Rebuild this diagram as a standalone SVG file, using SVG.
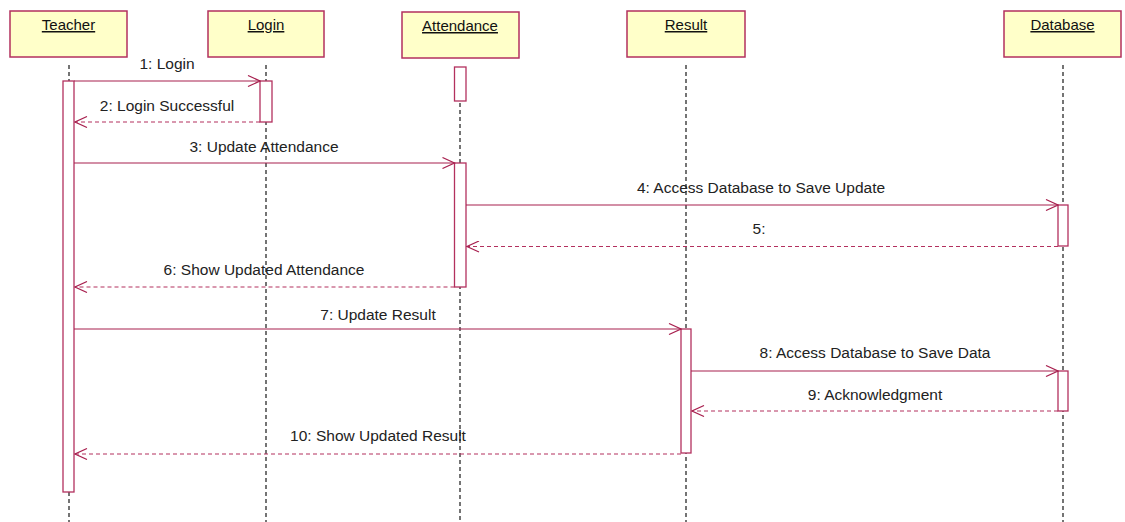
<svg xmlns="http://www.w3.org/2000/svg" width="1125" height="522" viewBox="0 0 1125 522">
  <style>
    .obj { fill: #FFFFC9; stroke: #B3305E; stroke-width: 1.5; }
    .act { fill: #FFFFFF; stroke: #B3305E; stroke-width: 1.3; }
    .life { stroke: #3A3A3A; stroke-width: 1.4; stroke-dasharray: 4 3; fill: none; }
    .msg { stroke: #A8204F; stroke-width: 1.2; fill: none; marker-end: url(#open); }
    .ret { stroke: #B3305E; stroke-width: 1.2; fill: none; stroke-dasharray: 4 3; marker-end: url(#open); }
    .name { font-family: "Liberation Sans", Arial, sans-serif; font-size: 15px; fill: #111111; text-anchor: middle; text-decoration: underline; }
    .lbl { font-family: "Liberation Sans", Arial, sans-serif; font-size: 15.5px; fill: #222222; text-anchor: middle; }
  </style>
  <defs>
    <marker id="open" viewBox="0 0 14 12" refX="13" refY="6" markerWidth="14" markerHeight="12" markerUnits="userSpaceOnUse" orient="auto">
      <path d="M1,0.5 L13,6 L1,11.5" fill="none" stroke="#A8204F" stroke-width="1.2" stroke-dasharray="none"/>
    </marker>
  </defs>

  <rect width="1125" height="522" fill="#FFFFFF"/>

  <!-- lifelines -->
  <g id="lifelines">
    <line class="life" x1="69" y1="65" x2="69" y2="522"/>
    <line class="life" x1="266" y1="65" x2="266" y2="522"/>
    <line class="life" x1="460" y1="103" x2="460" y2="522"/>
    <line class="life" x1="686" y1="65" x2="686" y2="522"/>
    <line class="life" x1="1063" y1="65" x2="1063" y2="522"/>
  </g>

  <!-- participants -->
  <g id="teacher">
    <rect class="obj" x="10" y="11" width="117" height="46"/>
    <text class="name" x="68.5" y="30">Teacher</text>
    <rect class="act" x="63" y="81" width="11" height="411"/>
  </g>
  <g id="login">
    <rect class="obj" x="208" y="11" width="116" height="46"/>
    <text class="name" x="266" y="30">Login</text>
    <rect class="act" x="260" y="81" width="12" height="41"/>
  </g>
  <g id="attendance">
    <rect class="obj" x="402" y="12" width="117" height="46"/>
    <text class="name" x="460" y="31">Attendance</text>
    <rect class="act" x="454.5" y="67" width="11.5" height="34"/>
    <rect class="act" x="454.5" y="163" width="11.5" height="124"/>
  </g>
  <g id="result">
    <rect class="obj" x="627" y="11" width="118" height="46"/>
    <text class="name" x="686" y="30">Result</text>
    <rect class="act" x="681" y="329" width="10" height="124"/>
  </g>
  <g id="database">
    <rect class="obj" x="1004" y="11" width="117" height="46"/>
    <text class="name" x="1062.5" y="30">Database</text>
    <rect class="act" x="1058" y="205" width="10" height="41"/>
    <rect class="act" x="1058" y="371" width="10" height="40"/>
  </g>

  <!-- messages -->
  <g id="connectors">
    <line class="msg" x1="74" y1="81" x2="260" y2="81"/>
    <line class="ret" x1="260" y1="122" x2="75" y2="122"/>
    <line class="msg" x1="74" y1="163" x2="454.5" y2="163"/>
    <line class="msg" x1="466" y1="205" x2="1058" y2="205"/>
    <line class="ret" x1="1058" y1="246.5" x2="467" y2="246.5"/>
    <line class="ret" x1="454.5" y1="287" x2="75" y2="287"/>
    <line class="msg" x1="74" y1="329" x2="681" y2="329"/>
    <line class="msg" x1="691" y1="371" x2="1058" y2="371"/>
    <line class="ret" x1="1058" y1="411" x2="692" y2="411"/>
    <line class="ret" x1="681" y1="454" x2="75" y2="454"/>

    <text class="lbl" x="167" y="69">1: Login</text>
    <text class="lbl" x="167" y="111">2: Login Successful</text>
    <text class="lbl" x="264" y="152">3: Update Attendance</text>
    <text class="lbl" x="761" y="193">4: Access Database to Save Update</text>
    <text class="lbl" x="759" y="234">5:</text>
    <text class="lbl" x="264" y="275">6: Show Updated Attendance</text>
    <text class="lbl" x="378" y="320">7: Update Result</text>
    <text class="lbl" x="875" y="358">8: Access Database to Save Data</text>
    <text class="lbl" x="875" y="400">9: Acknowledgment</text>
    <text class="lbl" x="378" y="441">10: Show Updated Result</text>
  </g>
</svg>
